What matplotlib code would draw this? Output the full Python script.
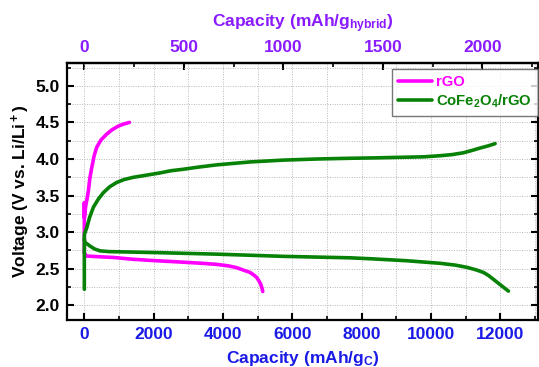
import matplotlib
matplotlib.use("Agg")
import matplotlib.pyplot as plt
from matplotlib.ticker import MultipleLocator

plt.rcParams['font.family'] = ['Liberation Sans', 'DejaVu Sans']
plt.rcParams['font.weight'] = 'bold'
plt.rcParams['mathtext.fontset'] = 'custom'
plt.rcParams['mathtext.rm'] = 'Liberation Sans:bold'
plt.rcParams['mathtext.bf'] = 'Liberation Sans:bold'
plt.rcParams['mathtext.it'] = 'Liberation Sans:bold'
plt.rcParams['mathtext.default'] = 'bf'

# rGO charge / discharge
rgo_charge_c = [0, 0, 0, 40, 80, 115, 160, 213, 280, 357, 480, 645, 800, 980, 1150, 1300]
rgo_charge_v = [2.72, 3.40, 3.20, 3.36, 3.46, 3.56, 3.74, 3.88, 4.04, 4.16, 4.26,
                4.34, 4.40, 4.45, 4.48, 4.50]
rgo_dis_c = [0, 50, 400, 837, 1400, 1895, 2857, 3400, 3818, 4150, 4395, 4600, 4780,
             4900, 4972, 5040, 5087, 5120, 5145]
rgo_dis_v = [2.72, 2.675, 2.665, 2.655, 2.63, 2.615, 2.59, 2.575, 2.56, 2.54, 2.515,
             2.48, 2.45, 2.41, 2.38, 2.33, 2.29, 2.24, 2.19]

# CoFe2O4/rGO charge / discharge
cfo_charge_c = [0, 0, 70, 150, 260, 400, 548, 730, 934, 1150, 1414, 1800, 2183, 2500,
                2857, 3300, 3818, 4300, 4780, 5740, 6703, 7664, 8336, 9299, 9800,
                10260, 10600, 10932, 11200, 11413, 11650, 11846]
cfo_charge_v = [2.22, 2.97, 3.06, 3.20, 3.34, 3.45, 3.54, 3.62, 3.68, 3.72, 3.75,
                3.78, 3.81, 3.84, 3.86, 3.89, 3.92, 3.94, 3.96, 3.985, 4.00, 4.01,
                4.015, 4.025, 4.03, 4.045, 4.06, 4.085, 4.12, 4.15, 4.18, 4.21]
cfo_dis_c = [0, 20, 80, 165, 300, 453, 700, 1222, 2183, 3818, 5740, 7664, 8336, 9299,
             10260, 10700, 11030, 11300, 11510, 11650, 11800, 12000, 12230]
cfo_dis_v = [2.90, 2.86, 2.84, 2.81, 2.77, 2.745, 2.735, 2.73, 2.72, 2.70, 2.67, 2.65,
             2.635, 2.61, 2.575, 2.55, 2.52, 2.485, 2.45, 2.41, 2.355, 2.28, 2.195]

x_ticks = [0, 2000, 4000, 6000, 8000, 10000, 12000]
top_ticks = [0, 500, 1000, 1500, 2000]
y_ticks = [2.0, 2.5, 3.0, 3.5, 4.0, 4.5, 5.0]
ratio = 5.74

magenta = '#ff00ff'
green = '#078207'
blue = '#1a1ae6'
violet = '#8a1aff'

fig = plt.figure(figsize=(5.39, 3.67), dpi=100)
ax = fig.add_axes([0.1243, 0.128, 0.8737, 0.700])

kw = dict(lw=2.6, solid_capstyle='round', solid_joinstyle='round')
ax.plot(rgo_charge_c, rgo_charge_v, color=magenta, label='rGO', **kw)
ax.plot(rgo_dis_c, rgo_dis_v, color=magenta, **kw)
ax.plot(cfo_charge_c, cfo_charge_v, color=green, label='CoFe$_2$O$_4$/rGO', **kw)
ax.plot(cfo_dis_c, cfo_dis_v, color=green, **kw)

ax.set_xlim(-500, 13080)
ax.set_ylim(1.8, 5.31)
ax.set_xticks(x_ticks)
ax.set_yticks(y_ticks)
ax.xaxis.set_minor_locator(MultipleLocator(1000))
ax.yaxis.set_minor_locator(MultipleLocator(0.25))
ax.grid(True, which='both', color='#b8b8b8', linestyle=(0, (1, 1.5)), linewidth=0.7)
ax.set_axisbelow(True)

for s in ax.spines.values():
    s.set_linewidth(1.6)

ax.tick_params(axis='both', which='major', direction='in', length=5, width=1.5,
               labelsize=12.5, top=False, right=True)
ax.tick_params(axis='both', which='minor', direction='in', length=3, width=1.2,
               top=False, right=True)
ax.tick_params(axis='x', which='major', labelcolor=blue, pad=5)
ax.tick_params(axis='y', which='major', pad=5)
ax.set_yticklabels([f'{v:.1f}' for v in y_ticks])
for lab in ax.get_xticklabels() + ax.get_yticklabels():
    lab.set_fontweight('bold')

ax.set_xlabel('Capacity (mAh/g$_C$)', color=blue, fontsize=12.5, fontweight='bold',
              labelpad=5)
ax.set_ylabel('Voltage (V vs. Li/Li$^+$)', fontsize=12.5, fontweight='bold', labelpad=3)

sec = ax.secondary_xaxis('top', functions=(lambda x: x / ratio, lambda x: x * ratio))
sec.set_xticks(top_ticks)
sec.xaxis.set_minor_locator(MultipleLocator(250))
sec.tick_params(axis='x', which='major', direction='in', length=5, width=1.5,
                labelsize=12.5, labelcolor=violet, pad=6)
sec.tick_params(axis='x', which='minor', direction='in', length=3, width=1.2)
sec.spines['top'].set_linewidth(1.6)
for lab in sec.get_xticklabels():
    lab.set_fontweight('bold')
sec.set_xlabel('Capacity (mAh/g$_{hybrid}$)', color=violet, fontsize=12.5,
               fontweight='bold', labelpad=9)

leg = ax.legend(loc='upper right', bbox_to_anchor=(1.0, 0.977), fontsize=10.7,
                frameon=True, fancybox=False, edgecolor='#555555', handlelength=2.3,
                borderaxespad=0.0, labelspacing=0.25, handletextpad=0.25,
                borderpad=0.4)
leg.get_frame().set_linewidth(1.0)
for txt, col in zip(leg.get_texts(), [magenta, green]):
    txt.set_color(col)
    txt.set_fontweight('bold')

fig.savefig('out.png', dpi=100)
